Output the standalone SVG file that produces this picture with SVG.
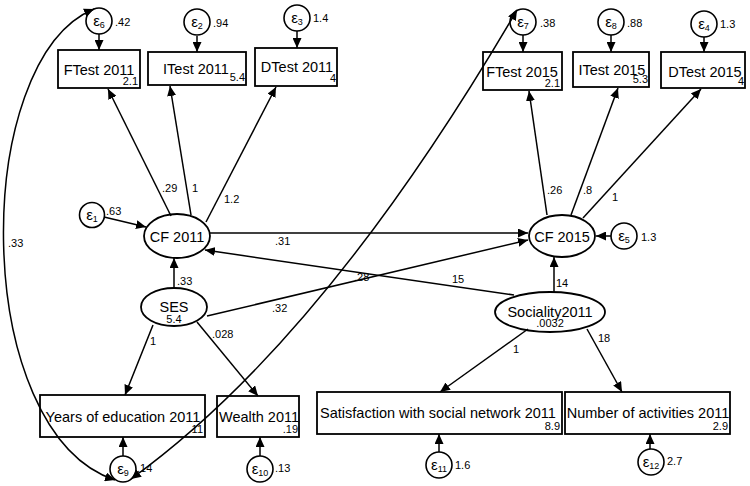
<svg xmlns="http://www.w3.org/2000/svg" width="750" height="486" viewBox="0 0 750 486">
<style>
text{font-family:"Liberation Sans",Arial,sans-serif;fill:#000}
.box{fill:none;stroke:#000;stroke-width:1.8}
.ell{fill:none;stroke:#000;stroke-width:1.8}
.err{fill:none;stroke:#000;stroke-width:1.6}
.lbl{font-size:14.5px}
.mid{text-anchor:middle}
.end{text-anchor:end}
.sm{font-size:11px}
.eps{font-size:15px;text-anchor:middle}
.sub{font-size:9px}
.c{fill:none;stroke:#000;stroke-width:1.5}
.a{marker-end:url(#ah)}
.d{marker-end:url(#ah);marker-start:url(#ahs)}
</style>
<defs>
<marker id="ah" markerUnits="userSpaceOnUse" markerWidth="11" markerHeight="9" refX="10" refY="4.5" orient="auto"><path d="M0,0 L10,4.5 L0,9 z" fill="#000"/></marker>
<marker id="ahs" markerUnits="userSpaceOnUse" markerWidth="11" markerHeight="9" refX="10" refY="4.5" orient="auto-start-reverse"><path d="M0,0 L10,4.5 L0,9 z" fill="#000"/></marker>
</defs>

<g id="connectors">
<path class="c d" d="M115,480 C-30,432 -30,60 94,9"/>
<path class="c d" d="M131,479 Q324,340 517,10"/>
<line class="c a" x1="99" y1="34" x2="99" y2="50"/>
<line class="c a" x1="197" y1="36" x2="197" y2="52"/>
<line class="c a" x1="297" y1="31" x2="297" y2="48"/>
<line class="c a" x1="523" y1="35" x2="523" y2="52"/>
<line class="c a" x1="611" y1="35" x2="611" y2="52"/>
<line class="c a" x1="704" y1="37" x2="704" y2="52"/>
<line class="c a" x1="171" y1="216" x2="108" y2="89"/>
<line class="c a" x1="191" y1="215" x2="170" y2="86"/>
<line class="c a" x1="206" y1="222" x2="276" y2="87"/>
<line class="c a" x1="547" y1="215" x2="529" y2="91"/>
<line class="c a" x1="571" y1="215" x2="618" y2="88"/>
<line class="c a" x1="583" y1="218" x2="701" y2="89"/>
<line class="c a" x1="104" y1="217" x2="146" y2="227"/>
<line class="c a" x1="611" y1="236" x2="596" y2="236"/>
<line class="c a" x1="210" y1="233" x2="528" y2="233"/>
<line class="c a" x1="207" y1="316" x2="528" y2="240"/>
<line class="c a" x1="514" y1="295" x2="205" y2="250"/>
<line class="c a" x1="174" y1="288" x2="174" y2="258"/>
<line class="c a" x1="554" y1="292" x2="554" y2="257"/>
<line class="c a" x1="153" y1="325" x2="125" y2="395"/>
<line class="c a" x1="197" y1="322" x2="258" y2="396"/>
<line class="c a" x1="528" y1="329" x2="440" y2="392"/>
<line class="c a" x1="587" y1="329" x2="622" y2="392"/>
<line class="c a" x1="123" y1="456" x2="123" y2="437"/>
<line class="c a" x1="260" y1="456" x2="260" y2="437"/>
<line class="c a" x1="439" y1="452" x2="439" y2="434"/>
<line class="c a" x1="650" y1="449" x2="650" y2="434"/>
<g class="sm">
<text x="162" y="192">.29</text>
<text x="192" y="192">1</text>
<text x="224" y="203">1.2</text>
<text x="547" y="194">.26</text>
<text x="583" y="194">.8</text>
<text x="612" y="201">1</text>
<text x="275" y="245">.31</text>
<text x="177" y="285">.33</text>
<text x="272" y="312">.32</text>
<text x="212" y="338">.028</text>
<text x="354" y="281">.28</text>
<text x="452" y="283">15</text>
<text x="556" y="287">14</text>
<text x="150" y="345">1</text>
<text x="513" y="353">1</text>
<text x="598" y="342">18</text>
<text x="8" y="247">.33</text>
</g>
</g>

<g id="e6"><circle class="err" cx="99" cy="21" r="13"/><text class="eps" x="99" y="26">ε<tspan class="sub" dy="2">6</tspan></text><text class="sm" x="115" y="26">.42</text></g>
<g id="e2"><circle class="err" cx="197" cy="22" r="13"/><text class="eps" x="197" y="27">ε<tspan class="sub" dy="2">2</tspan></text><text class="sm" x="213" y="27">.94</text></g>
<g id="e3"><circle class="err" cx="297" cy="18" r="13"/><text class="eps" x="297" y="23">ε<tspan class="sub" dy="2">3</tspan></text><text class="sm" x="313" y="22">1.4</text></g>
<g id="e7"><circle class="err" cx="523" cy="22" r="13"/><text class="eps" x="523" y="27">ε<tspan class="sub" dy="2">7</tspan></text><text class="sm" x="540" y="27">.38</text></g>
<g id="e8"><circle class="err" cx="611" cy="22" r="13"/><text class="eps" x="611" y="27">ε<tspan class="sub" dy="2">8</tspan></text><text class="sm" x="627" y="27">.88</text></g>
<g id="e4"><circle class="err" cx="704" cy="24" r="13"/><text class="eps" x="704" y="29">ε<tspan class="sub" dy="2">4</tspan></text><text class="sm" x="720" y="28">1.3</text></g>

<g id="ftest2011"><rect class="box" x="58" y="50" width="82" height="38"/><text class="lbl mid" x="99" y="75">FTest 2011</text><text class="sm end" x="138" y="85">2.1</text></g>
<g id="itest2011"><rect class="box" x="148" y="52" width="98" height="33"/><text class="lbl mid" x="196" y="74">ITest 2011</text><text class="sm end" x="245" y="81">5.4</text></g>
<g id="dtest2011"><rect class="box" x="255" y="48" width="82" height="38"/><text class="lbl mid" x="297" y="72">DTest 2011</text><text class="sm end" x="336" y="82">4</text></g>
<g id="ftest2015"><rect class="box" x="483" y="52" width="79" height="38"/><text class="lbl mid" x="522" y="77">FTest 2015</text><text class="sm end" x="560" y="87">2.1</text></g>
<g id="itest2015"><rect class="box" x="573" y="52" width="76" height="35"/><text class="lbl mid" x="612" y="75">ITest 2015</text><text class="sm end" x="648" y="83">5.3</text></g>
<g id="dtest2015"><rect class="box" x="661" y="52" width="84" height="36"/><text class="lbl mid" x="705" y="77">DTest 2015</text><text class="sm end" x="744" y="85">4</text></g>

<g id="e1"><circle class="err" cx="92" cy="215" r="12.5"/><text class="eps" x="92" y="220">ε<tspan class="sub" dy="2">1</tspan></text><text class="sm" x="106" y="215">.63</text></g>
<g id="cf2011"><ellipse class="ell" cx="177" cy="236" rx="33" ry="22"/><text class="lbl mid" x="177" y="242">CF 2011</text></g>
<g id="cf2015"><ellipse class="ell" cx="562" cy="236" rx="33" ry="21"/><text class="lbl mid" x="562" y="242">CF 2015</text></g>
<g id="e5"><circle class="err" cx="624" cy="236" r="13"/><text class="eps" x="624" y="241">ε<tspan class="sub" dy="2">5</tspan></text><text class="sm" x="641" y="241">1.3</text></g>
<g id="ses"><ellipse class="ell" cx="174" cy="307" rx="33" ry="19"/><text class="lbl mid" x="174" y="312">SES</text><text class="sm mid" x="174" y="323">5.4</text></g>
<g id="sociality2011"><ellipse class="ell" cx="550" cy="312" rx="55" ry="20"/><text class="lbl mid" x="550" y="317">Sociality2011</text><text class="sm mid" x="550" y="327">.0032</text></g>

<g id="years2011"><rect class="box" x="40" y="395" width="165" height="42"/><text class="lbl mid" x="123" y="422">Years of education 2011</text><text class="sm end" x="203" y="433">11</text></g>
<g id="wealth2011"><rect class="box" x="217" y="396" width="82" height="41"/><text class="lbl mid" x="259" y="422">Wealth 2011</text><text class="sm end" x="298" y="433">.19</text></g>
<g id="satisfaction2011"><rect class="box" x="317" y="392" width="245" height="42"/><text class="lbl mid" x="438" y="418">Satisfaction with social network 2011</text><text class="sm end" x="560" y="430">8.9</text></g>
<g id="activities2011"><rect class="box" x="565" y="392" width="165" height="42"/><text class="lbl mid" x="648" y="418">Number of activities 2011</text><text class="sm end" x="728" y="430">2.9</text></g>

<g id="e9"><circle class="err" cx="123" cy="469" r="13"/><text class="eps" x="123" y="474">ε<tspan class="sub" dy="2">9</tspan></text><text class="sm" x="137" y="472">.14</text></g>
<g id="e10"><circle class="err" cx="260" cy="469" r="13"/><text class="eps" x="260" y="474">ε<tspan class="sub" dy="2">10</tspan></text><text class="sm" x="275" y="472">.13</text></g>
<g id="e11"><circle class="err" cx="439" cy="465" r="13"/><text class="eps" x="439" y="470">ε<tspan class="sub" dy="2">11</tspan></text><text class="sm" x="455" y="469">1.6</text></g>
<g id="e12"><circle class="err" cx="651" cy="462" r="13"/><text class="eps" x="651" y="467">ε<tspan class="sub" dy="2">12</tspan></text><text class="sm" x="667" y="465">2.7</text></g>
</svg>
